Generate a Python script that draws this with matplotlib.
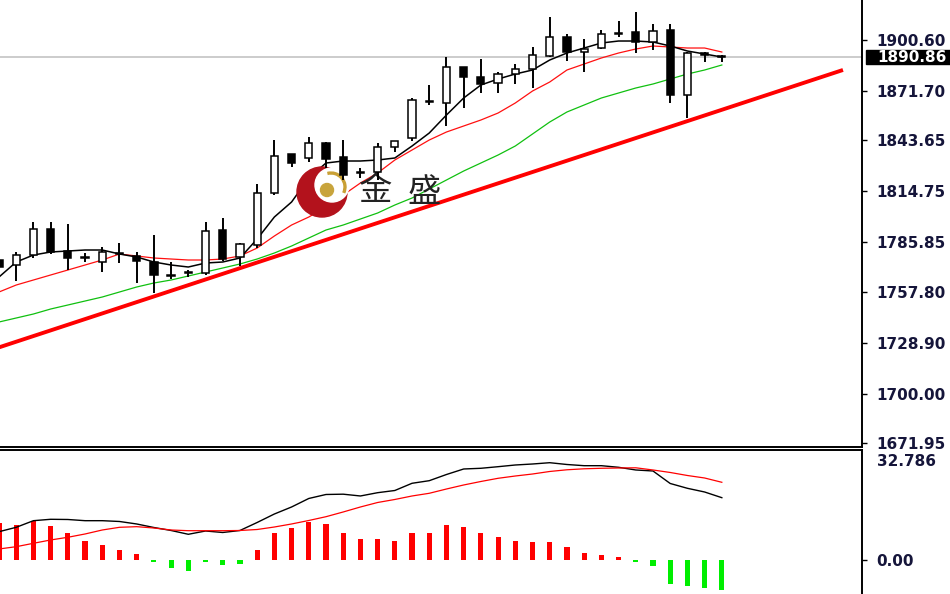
import numpy as np
import matplotlib
matplotlib.use('Agg')
import matplotlib.pyplot as plt
from matplotlib import transforms
from matplotlib.patches import Rectangle, Circle, Arc

# --- DADOS (velas diárias, médias móveis, MACD) ---

abertura = [1775.78, 1772.94, 1778.61, 1793.37, 1780.88, 1777.48, 1774.64, 1779.46, 1778.05, 1774.64,
            1767.27, 1768.40, 1768.40, 1792.80, 1777.48, 1784.29, 1813.79, 1835.92, 1833.65, 1842.16,
            1834.22, 1825.42, 1825.71, 1839.89, 1845.00, 1865.99, 1864.86, 1885.28, 1879.61, 1876.20,
            1881.31, 1884.15, 1891.52, 1902.30, 1893.79, 1896.06, 1904.29, 1905.14, 1899.47, 1906.27,
            1869.39, 1893.22, 1891.52]
maxima = [1791.10, 1780.32, 1797.34, 1797.34, 1796.20, 1779.75, 1783.15, 1785.42, 1780.32, 1789.96,
          1774.64, 1770.10, 1797.34, 1799.61, 1785.42, 1818.90, 1843.86, 1835.92, 1845.56, 1842.73,
          1843.86, 1827.98, 1842.16, 1843.29, 1867.69, 1875.07, 1890.95, 1885.28, 1889.82, 1882.44,
          1886.98, 1896.63, 1913.65, 1904.00, 1901.17, 1906.27, 1911.38, 1916.49, 1909.68, 1909.68,
          1893.79, 1893.79, 1892.09]
minima = [1771.24, 1763.86, 1776.91, 1779.18, 1770.10, 1774.64, 1768.97, 1774.07, 1762.73, 1757.05,
          1765.00, 1766.13, 1767.27, 1775.21, 1772.37, 1782.58, 1812.66, 1828.54, 1831.38, 1827.98,
          1821.17, 1822.30, 1821.17, 1837.05, 1843.29, 1863.72, 1851.81, 1862.02, 1870.53, 1870.53,
          1875.64, 1873.37, 1890.95, 1888.68, 1882.44, 1895.49, 1902.30, 1893.22, 1894.93, 1864.86,
          1856.34, 1888.12, 1888.12]
fechamento = [1771.80, 1778.61, 1793.37, 1780.32, 1776.91, 1776.91, 1780.32, 1779.75, 1775.21, 1767.27,
              1766.70, 1768.97, 1792.23, 1776.34, 1784.85, 1813.79, 1834.78, 1830.81, 1842.16, 1833.08,
              1824.00, 1825.71, 1839.89, 1843.29, 1866.56, 1865.42, 1885.28, 1879.61, 1875.64, 1881.31,
              1884.15, 1892.09, 1902.30, 1893.79, 1895.49, 1904.00, 1904.57, 1899.47, 1905.71, 1869.39,
              1893.22, 1892.09, 1890.86]

ma_preta = [1766.13, 1774.64, 1778.61, 1780.32, 1780.88, 1781.45, 1781.45, 1779.18, 1777.48, 1774.64,
            1772.94, 1771.80, 1774.07, 1774.64, 1776.91, 1787.69, 1800.17, 1808.68, 1822.30, 1830.81,
            1831.95, 1831.95, 1832.51, 1833.65, 1840.46, 1847.83, 1858.05, 1867.69, 1875.07, 1878.47,
            1881.31, 1883.58, 1889.25, 1893.22, 1896.06, 1898.90, 1900.03, 1900.03, 1899.47, 1897.20,
            1894.36, 1892.66, 1890.95]
ma_vermelha = [1757.62, 1761.59, 1764.43, 1767.27, 1770.10, 1772.94, 1775.78, 1779.18, 1778.05, 1776.91,
               1776.34, 1775.78, 1775.78, 1776.34, 1778.05, 1782.58, 1789.39, 1795.63, 1800.17, 1805.85,
               1812.66, 1819.46, 1825.14, 1832.51, 1838.19, 1843.86, 1848.40, 1851.81, 1855.21, 1859.18,
               1864.86, 1871.66, 1876.77, 1883.58, 1886.98, 1890.39, 1893.22, 1895.49, 1897.20, 1896.63,
               1896.06, 1896.06, 1893.79]
ma_verde = [1740.60, 1742.87, 1745.14, 1747.97, 1750.24, 1752.51, 1754.78, 1757.62, 1760.46, 1762.73,
            1764.43, 1766.70, 1768.97, 1771.24, 1773.51, 1776.34, 1779.75, 1783.72, 1788.26, 1792.80,
            1795.63, 1799.04, 1802.44, 1806.98, 1810.95, 1816.06, 1821.17, 1826.27, 1830.81, 1835.35,
            1840.46, 1847.27, 1854.07, 1859.75, 1863.72, 1867.69, 1870.53, 1873.37, 1875.64, 1878.47,
            1881.31, 1883.58, 1886.42]

# linha de tendência desenhada à mão (índice da vela, preço)
tendencia_x = [-1.0, 49.04]
tendencia_y = [1723.0, 1883.6]

macd_hist = [11.13, 10.53, 11.73, 10.23, 8.12, 5.71, 4.51, 3.01, 1.80, -0.75,
             -2.41, -3.46, -0.75, -1.65, -1.20, 3.01, 8.12, 9.62, 11.43, 10.83,
             8.12, 6.32, 6.32, 5.71, 8.12, 8.12, 10.53, 9.92, 8.12, 6.92,
             5.71, 5.41, 5.41, 3.91, 2.11, 1.65, 0.81, -0.75, -1.80, -7.22,
             -7.73, -8.33, -9.02]
macd_dif = [8.51, 9.83, 11.82, 12.24, 12.18, 11.82, 11.82, 11.58, 10.83, 9.77,
            8.87, 7.73, 8.72, 8.27, 8.87, 11.28, 13.83, 15.94, 18.50, 19.70,
            19.79, 19.25, 20.24, 20.90, 23.07, 23.85, 25.71, 27.37, 27.58, 28.06,
            28.57, 28.87, 29.26, 28.72, 28.36, 28.36, 27.88, 27.07, 26.77, 23.01,
            21.56, 20.45, 18.74]
macd_dea = [3.31, 4.00, 5.02, 6.02, 6.83, 7.82, 9.02, 9.83, 10.02, 9.62,
            9.02, 8.81, 8.81, 8.81, 8.87, 9.17, 9.92, 10.83, 11.88, 13.02,
            14.44, 15.94, 17.29, 18.20, 19.25, 20.06, 21.35, 22.56, 23.61, 24.57,
            25.26, 25.86, 26.62, 27.13, 27.43, 27.58, 27.67, 27.73, 27.07, 26.32,
            25.41, 24.66, 23.37]

ticks_preco = [1900.60, 1871.70, 1843.65, 1814.75, 1785.85, 1757.80, 1728.90, 1700.00, 1671.95]
labels_preco = ['1900.60', '1871.70', '1843.65', '1814.75', '1785.85', '1757.80', '1728.90', '1700.00', '1671.95']
macd_topo = 32.786
ultimo_preco = 1890.86

# --- FIGURA ---

W, H = 950, 594
fig = plt.figure(figsize=(W / 100, H / 100), dpi=100)
fig.patch.set_facecolor('white')

ax = fig.add_axes([0, 1 - 447 / H, 862 / W, 447 / H])
ax2 = fig.add_axes([0, 0, 862 / W, 1 - 450 / H])

# coordenadas em pixel (y para baixo) para a marca d'água
pix = transforms.Affine2D().scale(1 / W, -1 / H).translate(0, 1) + fig.transFigure

cor_texto = '#15153a'
fonte_eixo = dict(fontsize=11, fontweight='bold')
x = np.arange(len(fechamento))
xlim = (0.058, 0.058 + 862 / 17.21)

o = np.array(abertura)
c = np.array(fechamento)
alta = c >= o

# velas
ax.vlines(x, minima, maxima, color='black', lw=1.4, zorder=4)
ax.bar(x, np.maximum(np.abs(c - o), 0.05), bottom=np.minimum(o, c), width=0.42,
       color=np.where(alta, 'white', 'black'), edgecolor='black', linewidth=1.1, zorder=5)

# médias e tendência
ax.axhline(ultimo_preco, color='#c4c4c4', lw=1.2, zorder=1)
ax.plot(x, ma_verde, color='#10c010', lw=0.9, zorder=2)
ax.plot(x, ma_vermelha, color='#ff1010', lw=0.9, zorder=2)
ax.plot(x, ma_preta, color='black', lw=1.1, zorder=2)
ax.plot(tendencia_x, tendencia_y, color='#ff0000', lw=2.8, solid_capstyle='butt', zorder=2.5)

# marca d'água (logo + texto)
ax.add_patch(Circle((322, 192), 25, transform=pix, color='#b3121c', zorder=3))
ax.add_patch(Circle((332, 185), 17, transform=pix, color='white', zorder=3.1))
ax.add_patch(Arc((331, 187), 28, 28, theta1=-105, theta2=25, transform=pix,
                 color='#c9a035', lw=2.4, zorder=3.2))
ax.add_patch(Circle((327, 190), 6.5, transform=pix, color='#c8a43c', zorder=3.3))
ax.text(375, 190, '金', transform=pix, fontsize=24, ha='center', va='center', color='#222222',
        family=['Noto Sans CJK SC', 'DejaVu Sans'], zorder=3)
ax.text(424, 193, '盛', transform=pix, fontsize=24, ha='center', va='center', color='#222222',
        family=['Noto Sans CJK SC', 'DejaVu Sans'], zorder=3)

ax.set_xlim(*xlim)
ax.set_ylim(1669.68, 1923.30)
ax.set_xticks([])
ax.yaxis.tick_right()
ax.set_yticks(ticks_preco)
ax.set_yticklabels(labels_preco, **fonte_eixo)
ax.tick_params(axis='y', direction='out', length=3.6, width=1, pad=7, labelcolor=cor_texto)
for lado in ['left', 'top']:
    ax.spines[lado].set_visible(False)
for lado in ['right', 'bottom']:
    ax.spines[lado].set_linewidth(1.4)

# etiqueta do preço atual
misto = transforms.blended_transform_factory(ax.transAxes, ax.transData)
ax.add_patch(Rectangle((866 / 862, ultimo_preco - 7 / 1.7625), 84 / 862, 14 / 1.7625,
                       transform=misto, color='black', clip_on=False, zorder=10))
ax.text(877 / 862, ultimo_preco, f'{ultimo_preco:.2f}', transform=misto, color='white',
        ha='left', va='center', clip_on=False, zorder=11, **fonte_eixo)

# --- MACD ---
cores = ['#ff0000' if v >= 0 else '#00ee00' for v in macd_hist]
ax2.bar(x, macd_hist, width=0.3, color=cores, zorder=2)
ax2.plot(x, macd_dif, color='black', lw=1.0, zorder=3)
ax2.plot(x, macd_dea, color='#ff0000', lw=0.9, zorder=3)

ax2.set_xlim(*xlim)
ax2.set_ylim(-10.23, 33.08)
ax2.set_xticks([])
ax2.yaxis.tick_right()
ax2.set_yticks([0])
ax2.set_yticklabels(['0.00'], **fonte_eixo)
ax2.tick_params(axis='y', direction='out', length=3.6, width=1, pad=7, labelcolor=cor_texto)
ax2.annotate(f'{macd_topo:.3f}', xy=(877 / 862, macd_topo), xycoords=('axes fraction', 'data'),
             xytext=(0, -2), textcoords='offset points', ha='left', va='top',
             color=cor_texto, annotation_clip=False, **fonte_eixo)
for lado in ['left', 'bottom']:
    ax2.spines[lado].set_visible(False)
for lado in ['right', 'top']:
    ax2.spines[lado].set_linewidth(1.4)

fig.savefig('out.png', dpi=100)
